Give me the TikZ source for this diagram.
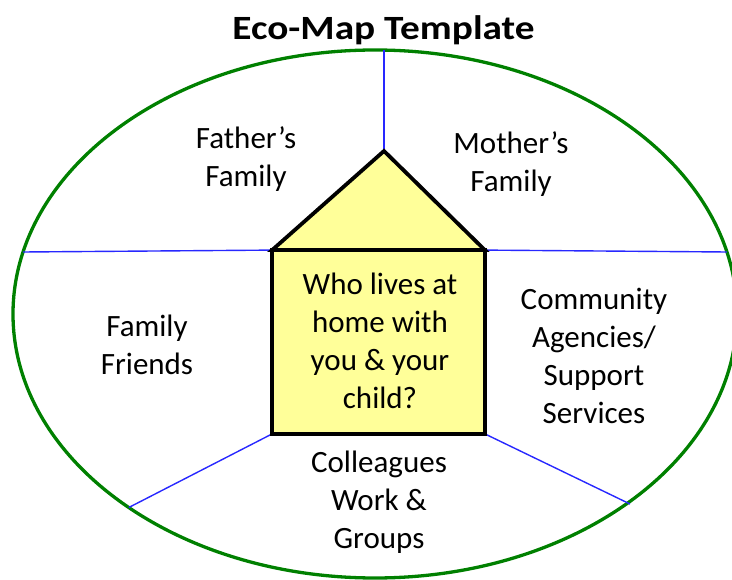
\documentclass[tikz,border=0pt]{standalone}
\usepackage{fontspec}
\setmainfont{Carlito}
\definecolor{ecogreen}{RGB}{0,128,0}
\definecolor{lineblue}{RGB}{40,40,255}
\definecolor{houseyellow}{RGB}{255,255,153}
\begin{document}
\begin{tikzpicture}[x=1pt,y=-1pt,
  ring/.style={draw=ecogreen, line width=3.3pt},
  divider/.style={draw=lineblue, line width=1.4pt},
  housepart/.style={draw=black, line width=3.8pt, fill=houseyellow, line join=miter},
  lbl/.style={font=\fontsize{31}{38}\selectfont, align=center, anchor=base, inner sep=0pt, text=black}]
\useasboundingbox (0,0) rectangle (732,580);
\clip (0,0) rectangle (732,580);

% title
\node[anchor=base, inner sep=0pt, font=\fontsize{34}{40}\selectfont\bfseries] (title) at (383.5,40)
  {\scalebox{1.155}[1]{Eco-Map Template}};

% outer ring
\coordinate (centre) at (375,314);
\draw[ring] (centre) ellipse [x radius=362, y radius=264];

% points on the ring
\coordinate (topend) at (384,50.1);
\coordinate (leftend) at (23.1,252);
\coordinate (rightend) at (726.9,252);
\coordinate (blend) at (128.8,507.5);
\coordinate (brend) at (630,504);

% house
\node[housepart, minimum width=209pt, minimum height=180pt, inner sep=0pt] (home) at (378.5,342) {};
\coordinate (apex) at (384,151);

% dividers
\draw[divider] (apex) -- (topend);
\draw[divider] (home.north west) -- (leftend);
\draw[divider] (home.north east) -- (rightend);
\draw[divider] (home.south west) -- (blend);
\draw[divider] (home.south east) -- (brend);

% house drawn on top of the divider ends
\draw[housepart] (home.north west) -- (apex) -- (home.north east) -- cycle;
\draw[housepart] (home.north west) rectangle (home.south east);

% labels (anchor base = baseline of the last line)
\node[lbl, font=\fontsize{31}{38.3}\selectfont] (hometext) at (380,409) {Who lives at\\home with\\you \& your\\child?};
\node[lbl] (father) at (246,187) {Father’s\\Family};
\node[lbl] (mother) at (511,192) {Mother’s\\Family};
\node[lbl] (friends) at (147,375) {Family\\Friends};
\node[lbl, font=\fontsize{31}{38.3}\selectfont] (community) at (594,424) {Community\\Agencies/\\Support\\Services};
\node[lbl] (colleagues) at (379,548) {Colleagues\\Work \&\\Groups};
\end{tikzpicture}
\end{document}
